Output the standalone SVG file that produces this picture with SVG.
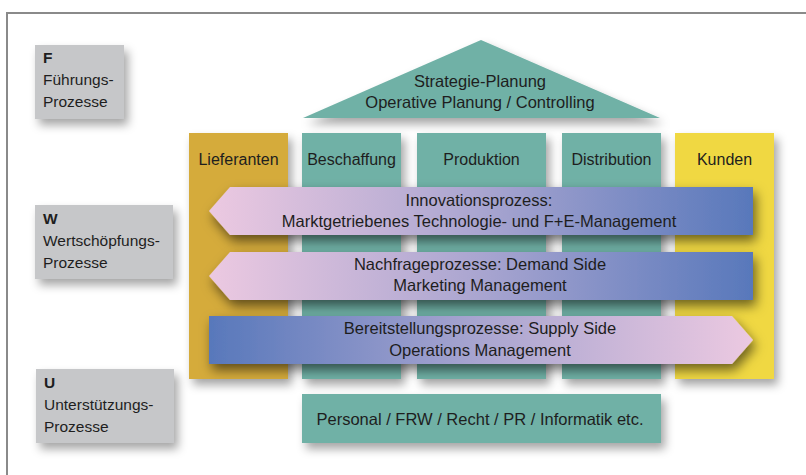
<svg xmlns="http://www.w3.org/2000/svg" width="806" height="475" viewBox="0 0 806 475">
<defs>
<style>
text{font-family:"Liberation Sans",Arial,sans-serif;font-size:16.5px;fill:#1e1e1e}
.l{font-size:15.5px}
.h{font-size:16px}
.c{text-anchor:middle}
.b{font-weight:bold}
.gray{fill:#c6c7c9}
.teal{fill:#70b1a6}
</style>
<filter id="sh" x="-20%" y="-20%" width="150%" height="160%">
<feDropShadow dx="4" dy="6" stdDeviation="5" flood-color="#000" flood-opacity="0.35"/>
</filter>
<filter id="sha" x="-10%" y="-40%" width="130%" height="200%">
<feDropShadow dx="3" dy="6" stdDeviation="6" flood-color="#000" flood-opacity="0.55"/>
</filter>
<linearGradient id="gl" x1="0" y1="0" x2="1" y2="0">
<stop offset="0" stop-color="#ecc9e1"/>
<stop offset="0.5" stop-color="#a9a5d0"/>
<stop offset="1" stop-color="#5878bb"/>
</linearGradient>
<linearGradient id="gr" x1="0" y1="0" x2="1" y2="0">
<stop offset="0" stop-color="#5878bb"/>
<stop offset="0.5" stop-color="#a9a5d0"/>
<stop offset="1" stop-color="#ecc9e1"/>
</linearGradient>
</defs>
<rect width="806" height="475" fill="#fff"/>
<path d="M7 475V13H806" fill="none" stroke="#8a8a8a" stroke-width="2"/>

<g id="F">
<rect class="gray" x="35" y="45" width="89" height="74" filter="url(#sh)"/>
<text class="l b" x="43" y="63">F</text>
<text class="l" x="43" y="85">Führungs-</text>
<text class="l" x="43" y="107">Prozesse</text>
</g>
<g id="W">
<rect class="gray" x="35" y="205" width="138" height="74" filter="url(#sh)"/>
<text class="l b" x="43" y="224">W</text>
<text class="l" x="43" y="246">Wertschöpfungs-</text>
<text class="l" x="43" y="268">Prozesse</text>
</g>
<g id="U">
<rect class="gray" x="36" y="369" width="138" height="74" filter="url(#sh)"/>
<text class="l b" x="44" y="388">U</text>
<text class="l" x="44" y="410">Unterstützungs-</text>
<text class="l" x="44" y="432">Prozesse</text>
</g>

<g id="roof">
<polygon class="teal" points="481,40 660,118 303,118" filter="url(#sh)"/>
<text class="c" x="480" y="87">Strategie-Planung</text>
<text class="c" x="480" y="108">Operative Planung / Controlling</text>
</g>
<g id="lieferanten">
<rect x="189" y="133" width="99" height="246" fill="#d5ab3b" filter="url(#sh)"/>
<text class="h c" x="238.5" y="165">Lieferanten</text>
</g>
<g id="beschaffung">
<rect class="teal" x="302" y="133" width="99" height="246" filter="url(#sh)"/>
<text class="h c" x="351.5" y="165">Beschaffung</text>
</g>
<g id="produktion">
<rect class="teal" x="417" y="133" width="129" height="246" filter="url(#sh)"/>
<text class="h c" x="481.5" y="165">Produktion</text>
</g>
<g id="distribution">
<rect class="teal" x="562" y="133" width="99" height="246" filter="url(#sh)"/>
<text class="h c" x="611.5" y="165">Distribution</text>
</g>
<g id="kunden">
<rect x="675" y="133" width="99" height="246" fill="#f0d843" filter="url(#sh)"/>
<text class="h c" x="724.5" y="165">Kunden</text>
</g>

<g id="innovation">
<polygon points="230,187 753,187 753,235 230,235 209,211" fill="url(#gl)" filter="url(#sha)"/>
<text class="c" x="479" y="206">Innovationsprozess:</text>
<text class="c" x="479" y="227">Marktgetriebenes Technologie- und F+E-Management</text>
</g>
<g id="nachfrage">
<polygon points="230,252 753,252 753,300 230,300 209,276" fill="url(#gl)" filter="url(#sha)"/>
<text class="c" x="480" y="270">Nachfrageprozesse: Demand Side</text>
<text class="c" x="480" y="291">Marketing Management</text>
</g>
<g id="bereitstellung">
<polygon points="209,316 732,316 753,340 732,364 209,364" fill="url(#gr)" filter="url(#sha)"/>
<text class="c" x="480" y="334">Bereitstellungsprozesse: Supply Side</text>
<text class="c" x="480" y="356">Operations Management</text>
</g>

<g id="personal">
<rect class="teal" x="302" y="394" width="359" height="49" filter="url(#sh)"/>
<text class="c" x="480" y="425">Personal / FRW / Recht / PR / Informatik etc.</text>
</g>
<g id="connectors"/>
</svg>
